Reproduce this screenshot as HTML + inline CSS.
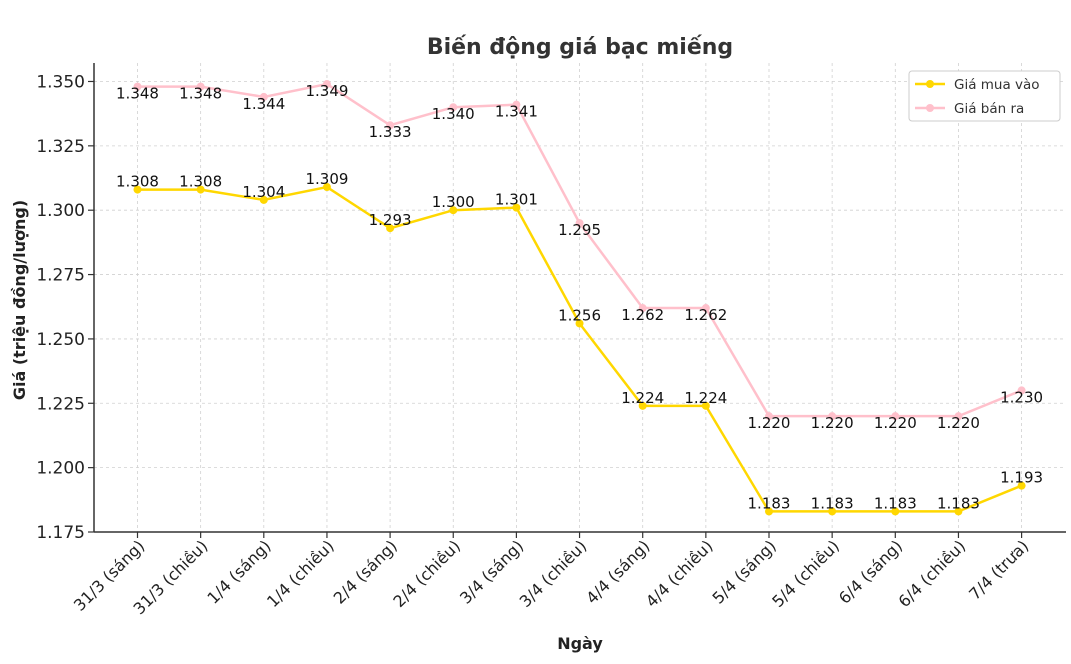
<!DOCTYPE html>
<html><head><meta charset="utf-8"><style>body{margin:0;background:#fff}svg{display:block;font-family:"DejaVu Sans","Liberation Sans",sans-serif}</style></head><body>
<svg width="1071" height="664" viewBox="0 0 1071 664" xmlns="http://www.w3.org/2000/svg">
<rect width="1071" height="664" fill="#fff"/>
<g id="grid" stroke="#d0d0d0" stroke-width="0.8" stroke-dasharray="3,3"></g>
<text x="580" y="54" text-anchor="middle" font-size="22" font-weight="bold" fill="#333">Biến động giá bạc miếng</text>
<text transform="translate(25,300) rotate(-90)" text-anchor="middle" font-size="16" font-weight="bold" fill="#222">Giá (triệu đồng/lượng)</text>
<text x="580" y="649" text-anchor="middle" font-size="16" font-weight="bold" fill="#222">Ngày</text>
<g id="ax"></g>
<g id="series"></g>
<g transform="translate(909,71)">
<rect x="0" y="0" width="151" height="50" rx="3" fill="#fff" stroke="#ccc"/>
<line x1="6" y1="13" x2="36" y2="13" stroke="#FFD700" stroke-width="2.5"/><circle cx="21" cy="13" r="4" fill="#FFD700"/>
<text x="45" y="18" font-size="13.5" fill="#333">Giá mua vào</text>
<line x1="6" y1="37" x2="36" y2="37" stroke="#FFC0CB" stroke-width="2.5"/><circle cx="21" cy="37" r="4" fill="#FFC0CB"/>
<text x="45" y="42" font-size="13.5" fill="#333">Giá bán ra</text>
</g>
</svg>
<script>
var NS="http://www.w3.org/2000/svg";
function el(p,t,a,txt){var e=document.createElementNS(NS,t);for(var k in a)e.setAttribute(k,a[k]);if(txt)e.textContent=txt;p.appendChild(e);return e;}
var labels=["31/3 (sáng)","31/3 (chiều)","1/4 (sáng)","1/4 (chiều)","2/4 (sáng)","2/4 (chiều)","3/4 (sáng)","3/4 (chiều)","4/4 (sáng)","4/4 (chiều)","5/4 (sáng)","5/4 (chiều)","6/4 (sáng)","6/4 (chiều)","7/4 (trưa)"];
var buy=[1.308,1.308,1.304,1.309,1.293,1.300,1.301,1.256,1.224,1.224,1.183,1.183,1.183,1.183,1.193];
var sell=[1.348,1.348,1.344,1.349,1.333,1.340,1.341,1.295,1.262,1.262,1.220,1.220,1.220,1.220,1.230];
function X(i){return 137.5+63.15*i;}function Y(v){return 532-(v-1.175)/0.025*64.36;}
var g=document.getElementById("grid"),ax=document.getElementById("ax"),s=document.getElementById("series");
for(var i=0;i<15;i++){el(g,"line",{x1:X(i),x2:X(i),y1:63,y2:532});}
for(var j=0;j<8;j++){var v=1.175+0.025*j;el(g,"line",{x1:94,x2:1066,y1:Y(v),y2:Y(v)});
el(ax,"line",{x1:88,x2:94,y1:Y(v),y2:Y(v),stroke:"#333","stroke-width":1.2});
el(ax,"text",{x:85,y:Y(v)+6,"text-anchor":"end","font-size":17,fill:"#222"},v.toFixed(3));}
el(ax,"line",{x1:94,x2:94,y1:63,y2:532,stroke:"#333","stroke-width":1.5});
el(ax,"line",{x1:94,x2:1066,y1:532,y2:532,stroke:"#333","stroke-width":1.5});
for(var i=0;i<15;i++){el(ax,"line",{x1:X(i),x2:X(i),y1:532,y2:538,stroke:"#333","stroke-width":1.2});
el(ax,"text",{transform:"translate("+(X(i)+8)+",547) rotate(-45)","text-anchor":"end","font-size":16,fill:"#222"},labels[i]);}
function line(d,c){var p=d.map(function(v,i){return X(i)+","+Y(v)}).join(" ");el(s,"polyline",{points:p,fill:"none",stroke:c,"stroke-width":2.5});
d.forEach(function(v,i){el(s,"circle",{cx:X(i),cy:Y(v),r:4,fill:c});});}
line(sell,"#FFC0CB");line(buy,"#FFD700");
buy.forEach(function(v,i){el(s,"text",{x:X(i),y:Y(v)-3,"text-anchor":"middle","font-size":15,fill:"#111"},v.toFixed(3));});
sell.forEach(function(v,i){el(s,"text",{x:X(i),y:Y(v)+12,"text-anchor":"middle","font-size":15,fill:"#111"},v.toFixed(3));});
</script>
</body></html>
